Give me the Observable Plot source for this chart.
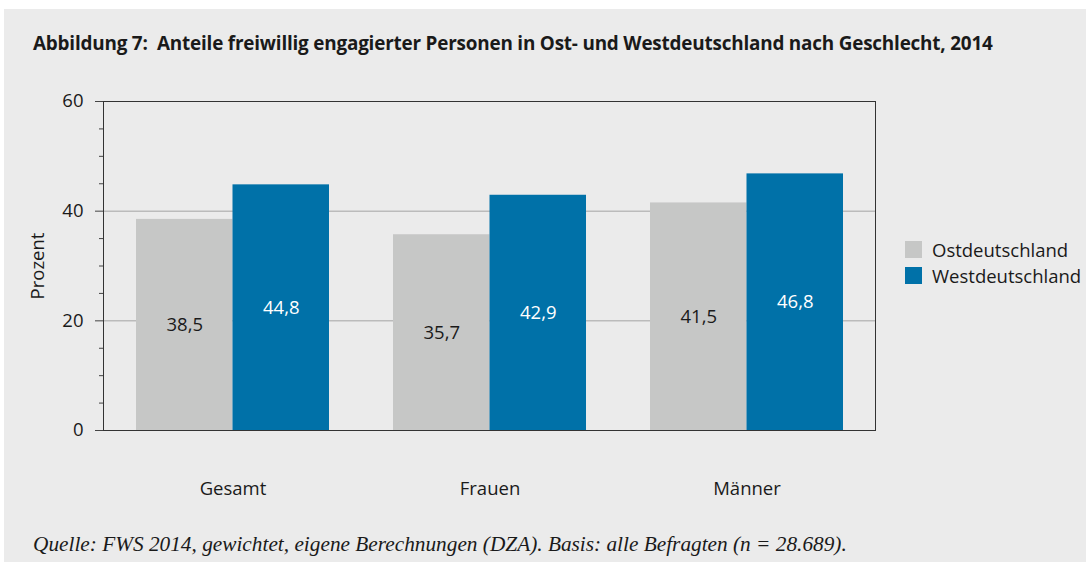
<!DOCTYPE html>
<html><head><meta charset="utf-8">
<script src="https://cdn.jsdelivr.net/npm/d3@7"></script>
<script src="https://cdn.jsdelivr.net/npm/@observablehq/plot@0.6"></script>
<style>
html,body{margin:0;padding:0;background:#fff;width:1086px;height:562px;overflow:hidden;font-family:"Open Sans",sans-serif;color:#1a1a1a}
#bg{position:absolute;left:4px;top:9px;right:0;bottom:0;background:#ebebeb}
#title{position:absolute;left:33px;top:30px;font-weight:700;font-size:18.9px;white-space:pre;letter-spacing:-0.2px}
#chart{position:absolute;left:0;top:80px}
#legend{position:absolute;left:905px;top:236px;font-size:18.5px}
#legend .item{display:flex;align-items:center;height:26px}
#legend .sw{width:17px;height:17px;margin-right:10px}
#caption{position:absolute;left:33px;top:532px;font-family:"Liberation Serif",serif;font-style:italic;font-size:21.3px;white-space:nowrap}
</style></head>
<body>
<div id="bg"></div>
<div id="title"></div>
<div id="chart"></div>
<div id="legend"></div>
<div id="caption"></div>
<script>
const titleText = "Abbildung 7:  Anteile freiwillig engagierter Personen in Ost- und Westdeutschland nach Geschlecht, 2014";
const captionText = "Quelle: FWS 2014, gewichtet, eigene Berechnungen (DZA). Basis: alle Befragten (n = 28.689).";
const categories = ["Gesamt", "Frauen", "Männer"];
const regions = ["Ostdeutschland", "Westdeutschland"];
const ostValues = [38.5, 35.7, 41.5];
const westValues = [44.8, 42.9, 46.8];
const majorTicks = [0, 20, 40, 60];
const minorTicks = [5, 10, 15, 25, 30, 35, 45, 50, 55];
const gridValues = [20, 40];
const colors = ["#c6c7c6", "#0071a8"];
const labelColors = ["#1a1a1a", "#ffffff"];

document.getElementById("title").textContent = titleText;
document.getElementById("caption").textContent = captionText;

const W = 1086, H = 430, ML = 103, MR = 211, MT = 21, MB = 80;
const FS = 18.5;
const bw = (W - ML - MR) / 3 * 0.75;
const fmt = v => v.toFixed(1).replace(".", ",");

const ost = categories.map((c, i) => ({cat: c, region: regions[0], value: ostValues[i]}));
const west = categories.map((c, i) => ({cat: c, region: regions[1], value: westValues[i]}));

const plot = Plot.plot({
  width: W, height: H,
  marginLeft: ML, marginRight: MR, marginTop: MT, marginBottom: MB,
  style: {background: "transparent", fontFamily: "Open Sans, sans-serif", fontSize: FS + "px", color: "#1a1a1a"},
  x: {domain: categories, paddingInner: 0.25, paddingOuter: 0.125, label: null},
  y: {domain: [0, 60], label: null},
  color: {domain: regions, range: colors},
  marks: [
    Plot.ruleY(gridValues, {stroke: "#a3a3a3", strokeWidth: 1}),
    Plot.barY(ost, {x: "cat", y: "value", fill: "region", insetRight: bw / 2}),
    Plot.barY(west, {x: "cat", y: "value", fill: "region", insetLeft: bw / 2}),
    Plot.text(ost, {x: "cat", y: d => d.value / 2, text: d => fmt(d.value), dx: -bw / 4, fill: labelColors[0], fontSize: FS}),
    Plot.text(west, {x: "cat", y: d => d.value / 2, text: d => fmt(d.value), dx: bw / 4, fill: labelColors[1], fontSize: FS}),
    Plot.frame({stroke: "#333"}),
    Plot.axisY({ticks: majorTicks, tickSize: 8, tickPadding: 12, stroke: "#444", fontSize: FS, label: "Prozent", labelAnchor: "center", labelArrow: "none", labelOffset: 73}),
    Plot.axisY({ticks: minorTicks, tickSize: 4, text: null, stroke: "#444", label: null}),
    Plot.axisX({tickSize: 0, tickPadding: 51, fontSize: FS, label: null})
  ]
});
document.getElementById("chart").appendChild(plot);

const legend = document.getElementById("legend");
regions.forEach((r, i) => {
  const item = document.createElement("div");
  item.className = "item";
  const sw = document.createElement("div");
  sw.className = "sw";
  sw.style.background = colors[i];
  const t = document.createElement("span");
  t.textContent = r;
  item.appendChild(sw); item.appendChild(t);
  legend.appendChild(item);
});
</script>
</body></html>
